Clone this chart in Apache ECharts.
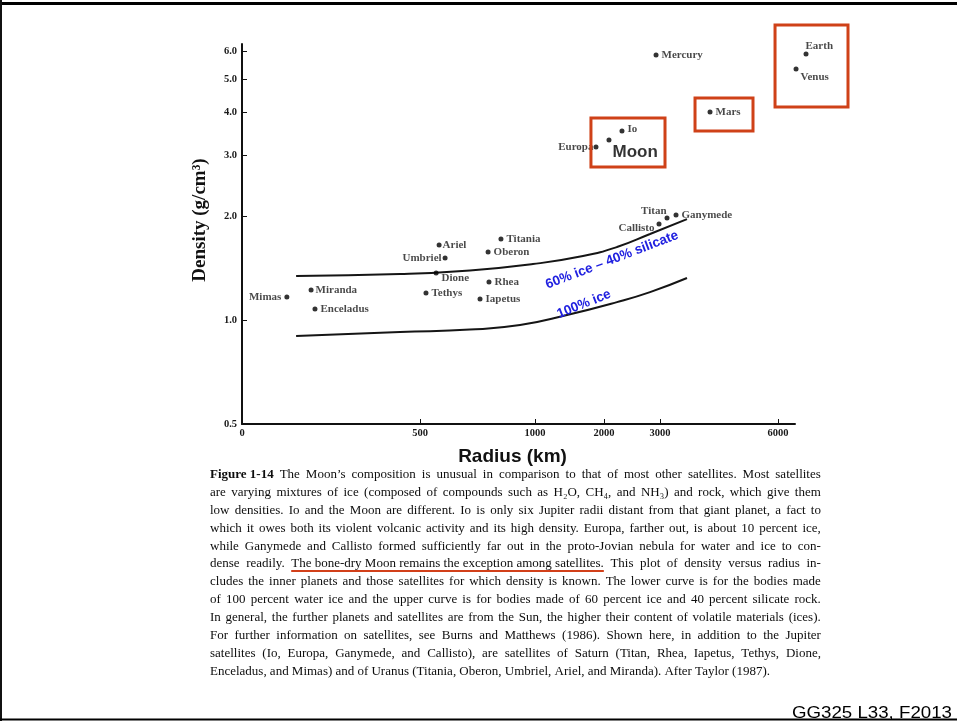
<!DOCTYPE html>
<html>
<head>
<meta charset="utf-8">
<script src="https://cdn.jsdelivr.net/npm/echarts@6/dist/echarts.min.js"></script>
<style>
html,body{margin:0;padding:0;background:#fff;}
#wrap{position:relative;width:957px;height:722px;overflow:hidden;background:#fff;}
#chart{position:absolute;left:0;top:0;width:957px;height:722px;}
#caption{position:absolute;left:210px;top:465px;width:611px;font-family:'Liberation Serif','Times New Roman',serif;font-size:13px;line-height:17.9px;color:#0d0d0d;}
#caption .row{display:flex;justify-content:space-between;white-space:nowrap;height:17.9px;}
#caption .row.last{justify-content:flex-start;}
#caption .row.last span{margin-right:3.2px;}
#caption .b{font-weight:bold;}
#caption .u{text-decoration:underline;text-decoration-color:#d2401a;text-decoration-thickness:2px;text-underline-offset:3px;text-decoration-skip-ink:none;}
</style>
</head>
<body>
<div id="wrap">
  <div id="chart"></div>
  <div id="caption"></div>
</div>
<script>
// ---------- data ----------
const BODIES = ['Mimas','Miranda','Enceladus','Tethys','Dione','Umbriel','Ariel','Titania','Oberon','Rhea','Iapetus','Callisto','Titan','Ganymede','Europa','Moon','Io','Mercury','Mars','Venus','Earth'];
const RADIUS_KM = [126,194,205,526,570,609,583,852,796,800,761,2982,3178,3407,1884,2089,2321,2929,4271,6458,6712];
const DENSITY = [1.167,1.222,1.077,1.198,1.369,1.514,1.651,1.718,1.576,1.289,1.151,1.899,1.977,2.017,3.175,3.327,3.533,5.866,4.011,5.344,5.906];

// 60% ice - 40% silicate (upper) curve
const MIX_RADIUS = [152,444,717,991,1696,2232,2822,3686];
const MIX_DENSITY = [1.342,1.360,1.393,1.454,1.534,1.629,1.777,1.963];
// 100% ice (lower) curve
const ICE_RADIUS = [152,444,717,935,1464,2232,2822,3686];
const ICE_DENSITY = [0.899,0.924,0.939,0.968,1.035,1.128,1.206,1.325];

const CURVE_LABELS = ['60% ice \u2013 40% silicate','100% ice'];
const CURVE_LABEL_RADIUS = [2143,1710];
const CURVE_LABEL_DENSITY = [1.494,1.113];

// highlighted boxes (radius / density ranges)
const BOX_NAMES = ['Moon','Mars','Earth & Venus'];
const BOX_R_FROM = [1811,3890,5924];
const BOX_R_TO = [3127,5364,7779];
const BOX_D_FROM = [2.779,3.533,4.147];
const BOX_D_TO = [3.853,4.404,7.17];

// axis ticks (x axis of the original is a broken, non-uniform scale)
const X_TICK_VALUES = [0,500,1000,2000,3000,6000];
const X_TICK_FRACTION = [0,0.3219,0.5298,0.6546,0.7559,0.9693];
const Y_TICKS = [0.5,1,2,3,4,5,6];
const Y_MIN = 0.5, Y_MAX = 6.316;

const CAPTION_LINES = [
 'Figure 1-14 The Moon\u2019s composition is unusual in comparison to that of most other satellites. Most satellites',
 'are varying mixtures of ice (composed of compounds such as H\u2082O, CH\u2084, and NH\u2083) and rock, which give them',
 'low densities. Io and the Moon are different. Io is only six Jupiter radii distant from that giant planet, a fact to',
 'which it owes both its violent volcanic activity and its high density. Europa, farther out, is about 10 percent ice,',
 'while Ganymede and Callisto formed sufficiently far out in the proto-Jovian nebula for water and ice to con-',
 'dense readily. The bone-dry Moon remains the exception among satellites. This plot of density versus radius in-',
 'cludes the inner planets and those satellites for which density is known. The lower curve is for the bodies made',
 'of 100 percent water ice and the upper curve is for bodies made of 60 percent ice and 40 percent silicate rock.',
 'In general, the further planets and satellites are from the Sun, the higher their content of volatile materials (ices).',
 'For further information on satellites, see Burns and Matthews (1986). Shown here, in addition to the Jupiter',
 'satellites (Io, Europa, Ganymede, and Callisto), are satellites of Saturn (Titan, Rhea, Iapetus, Tethys, Dione,',
 'Enceladus, and Mimas) and of Uranus (Titania, Oberon, Umbriel, Ariel, and Miranda). After Taylor (1987).'
];
const CAPTION_BOLD = 'Figure 1-14';
const CAPTION_UNDERLINE = 'The bone-dry Moon remains the exception among satellites.';
const FOOTER = 'GG325 L33, F2013';

// ---------- scales ----------
function xScale(r){
  const v = X_TICK_VALUES, f = X_TICK_FRACTION;
  let i = 0;
  while (i < v.length - 2 && r > v[i+1]) i++;
  return (f[i] + (r - v[i]) / (v[i+1] - v[i]) * (f[i+1] - f[i])) * 100;
}
const yScale = d => Math.log10(d);
const X_TICK_AXIS = X_TICK_VALUES.map(xScale);
const Y_TICK_AXIS = Y_TICKS.map(yScale);

// ---------- styles ----------
const SERIF = "'Liberation Serif','Times New Roman',serif";
const SANS = "'Liberation Sans',Arial,sans-serif";
const BOX_COLOR = '#cf4118';
const LABEL_STYLE = {
  Mimas:{position:'left',distance:3},
  Umbriel:{position:'left',distance:1},
  Europa:{position:'left',distance:0},
  Callisto:{position:'left',distance:2,offset:[0,4]},
  Titan:{position:'left',distance:0,offset:[2,-7]},
  Ariel:{distance:1},
  Miranda:{distance:2},
  Dione:{offset:[0,5]},
  Io:{offset:[0,-2]},
  Earth:{offset:[-6,-8]},
  Venus:{offset:[-1,8]},
  Moon:{offset:[-2,12],fontSize:17,fontWeight:'bold',fontFamily:SANS,color:'#000'}
};
const CURVE_LABEL_ANGLE = [21,22];

const bodyData = BODIES.map((n,i) => {
  const item = {name:n, value:[xScale(RADIUS_KM[i]), yScale(DENSITY[i])]};
  if (LABEL_STYLE[n]) item.label = LABEL_STYLE[n];
  return item;
});
const mixData = MIX_RADIUS.map((r,i) => [xScale(r), yScale(MIX_DENSITY[i])]);
const iceData = ICE_RADIUS.map((r,i) => [xScale(r), yScale(ICE_DENSITY[i])]);
const boxData = BOX_NAMES.map((n,i) => ({name:n, value:[xScale(BOX_R_FROM[i]), yScale(BOX_D_FROM[i]), xScale(BOX_R_TO[i]), yScale(BOX_D_TO[i])]}));
const curveLabelData = CURVE_LABELS.map((t,i) => ({name:t, value:[xScale(CURVE_LABEL_RADIUS[i]), yScale(CURVE_LABEL_DENSITY[i])]}));

const chart = echarts.init(document.getElementById('chart'), null, {renderer:'canvas'});
const option = {
  animation:false,
  backgroundColor:'#fff',
  grid:{left:242, top:44, width:553, height:380, containLabel:false, outerBoundsMode:'none'},
  xAxis:{
    type:'value', min:0, max:100,
    name:'Radius (km)', nameLocation:'middle', nameGap:23,
    nameTextStyle:{fontFamily:SANS, fontWeight:'bold', fontSize:19, color:'#111', padding:[0,12,0,0]},
    axisLine:{show:true, onZero:false, lineStyle:{color:'#111', width:2}},
    axisTick:{show:true, inside:true, length:5, customValues:X_TICK_AXIS, lineStyle:{color:'#111', width:1}},
    axisLabel:{show:true, customValues:X_TICK_AXIS, margin:4, fontFamily:SERIF, fontSize:10.5, fontWeight:'bold', color:'#1a1a1a',
      formatter:(v) => { let k = 0, best = 1e9; X_TICK_AXIS.forEach((t,i)=>{ if (Math.abs(t-v) < best){best=Math.abs(t-v); k=i;} }); return String(X_TICK_VALUES[k]); }},
    splitLine:{show:false}
  },
  yAxis:{
    type:'value', min:yScale(Y_MIN), max:yScale(Y_MAX),
    name:'Density (g/cm\u00b3)', nameLocation:'middle', nameRotate:90, nameGap:32,
    nameTextStyle:{fontFamily:SERIF, fontWeight:'bold', fontSize:19, color:'#111', padding:[0,0,0,28]},
    axisLine:{show:true, onZero:false, lineStyle:{color:'#111', width:2}},
    axisTick:{show:true, inside:true, length:5, customValues:Y_TICK_AXIS, lineStyle:{color:'#111', width:1}},
    axisLabel:{show:true, customValues:Y_TICK_AXIS, margin:5, fontFamily:SERIF, fontSize:10.5, fontWeight:'bold', color:'#1a1a1a',
      formatter:(v) => Math.pow(10, v).toFixed(1)},
    splitLine:{show:false}
  },
  series:[
    {type:'line', name:'60% ice – 40% silicate', data:mixData, smooth:true, symbol:'none', silent:true, z:2,
     lineStyle:{color:'#151515', width:2}},
    {type:'line', name:'100% ice', data:iceData, smooth:true, symbol:'none', silent:true, z:2,
     lineStyle:{color:'#151515', width:2}},
    {type:'scatter', name:'Bodies', data:bodyData, symbol:'circle', symbolSize:5, clip:false, z:4,
     itemStyle:{color:'#000'},
     label:{show:true, formatter:'{b}', position:'right', distance:3, fontFamily:SERIF, fontSize:11, fontWeight:'bold', color:'#1a1a1a'}},
    {type:'custom', name:'boxes', data:boxData, clip:false, silent:true, z:5,
     encode:{x:[0,2], y:[1,3]},
     renderItem:(params, api) => {
       const p1 = api.coord([api.value(0), api.value(1)]);
       const p2 = api.coord([api.value(2), api.value(3)]);
       return {type:'rect',
         shape:{x:Math.min(p1[0],p2[0]), y:Math.min(p1[1],p2[1]), width:Math.abs(p2[0]-p1[0]), height:Math.abs(p2[1]-p1[1])},
         style:{fill:'none', stroke:BOX_COLOR, lineWidth:3}};
     }},
    {type:'custom', name:'curve labels', data:curveLabelData, clip:false, silent:true, z:5,
     renderItem:(params, api) => {
       const p = api.coord([api.value(0), api.value(1)]);
       return {type:'text', x:p[0], y:p[1], rotation:CURVE_LABEL_ANGLE[params.dataIndex]*Math.PI/180,
         style:{text:CURVE_LABELS[params.dataIndex], fill:'#2020e0', fontFamily:SANS, fontWeight:'bold', fontSize:13.5, align:'center', verticalAlign:'middle'}};
     }}
  ],
  graphic:[
    {type:'rect', shape:{x:0, y:2, width:957, height:3}, style:{fill:'#000'}, silent:true},
    {type:'rect', shape:{x:0, y:0, width:2, height:721}, style:{fill:'#111'}, silent:true},
    {type:'rect', shape:{x:0, y:718.5, width:957, height:2}, style:{fill:'#000'}, silent:true},
    {type:'text', x:952, y:713, scaleX:1.1, silent:true,
     style:{text:FOOTER, fill:'#000', fontFamily:SANS, fontSize:17, align:'right', verticalAlign:'middle'}}
  ]
};
chart.setOption(option);

// ---------- caption (justified lines) ----------
(function buildCaption(){
  const box = document.getElementById('caption');
  const esc = s => s.replace(/[.*+?^${}()|[\]\\]/g, '\\$&');
  const re = new RegExp('(' + esc(CAPTION_BOLD) + '|' + esc(CAPTION_UNDERLINE) + ')');
  CAPTION_LINES.forEach((line, li) => {
    const row = document.createElement('div');
    row.className = li === CAPTION_LINES.length - 1 ? 'row last' : 'row';
    line.split(re).forEach(seg => {
      if (!seg) return;
      if (seg === CAPTION_BOLD || seg === CAPTION_UNDERLINE) {
        const s = document.createElement('span');
        s.className = seg === CAPTION_BOLD ? 'b' : 'u';
        s.textContent = seg;
        row.appendChild(s);
      } else {
        seg.trim().split(/\s+/).forEach(w => {
          if (!w) return;
          const s = document.createElement('span');
          s.textContent = w;
          row.appendChild(s);
        });
      }
    });
    box.appendChild(row);
  });
})();
</script>
</body>
</html>
